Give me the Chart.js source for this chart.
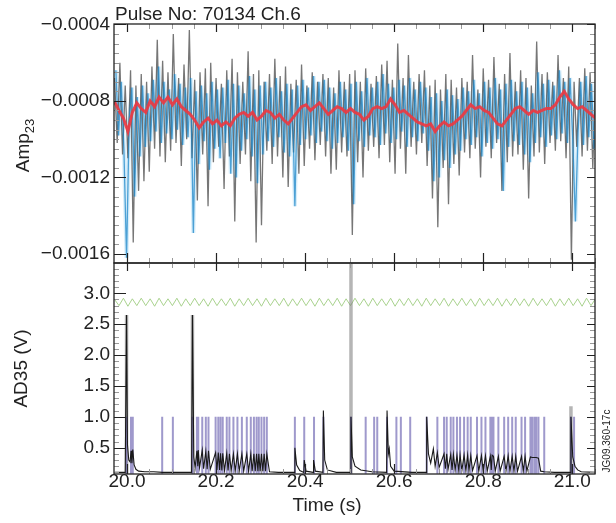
<!DOCTYPE html>
<html>
<head>
<meta charset="utf-8">
<script src="https://cdn.jsdelivr.net/npm/chart.js@4"></script>
<style>
  body { margin: 0; background: #fff; }
  canvas { display: block; }
</style>
</head>
<body>
<canvas id="grafico" width="616" height="523"></canvas>
<script>
// ---- datos ----
// Amp23 en unidades de 1e-4, muestreado cada 0.006 s
var grisStart = 19.972;
var azulStart = 19.975;
var ampStep = 0.006;
var ampGris = [
  -6.8, -10.2, -6.0, -10.8, -7.2, -11.0, -6.4, -15.4, -7.2, -12.7,
  -6.6, -12.2, -7.0, -11.7, -6.2, -10.5, -4.8, -10.9, -5.9, -11.2,
  -6.5, -10.6, -4.5, -10.2, -6.8, -11.4, -6.1, -10.0, -4.3, -11.0,
  -6.9, -13.2, -6.5, -10.8, -6.3, -13.5, -6.0, -11.2, -6.8, -10.4,
  -7.1, -12.6, -6.4, -10.9, -5.8, -14.3, -6.5, -11.3, -7.0, -10.8,
  -5.4, -12.2, -6.6, -15.4, -6.4, -14.5, -7.0, -10.6, -6.6, -11.3,
  -5.8, -10.9, -6.7, -12.0, -6.2, -12.5, -7.1, -10.7, -6.9, -11.8,
  -6.1, -11.4, -7.2, -10.5, -6.5, -11.1, -7.0, -10.3, -6.6, -10.9,
  -6.8, -11.8, -7.3, -11.6, -6.4, -10.7, -7.0, -10.9, -6.6, -15.0,
  -6.4, -11.2, -7.0, -12.0, -6.3, -10.6, -7.1, -10.4, -6.7, -11.0,
  -6.1, -10.3, -5.9, -11.2, -6.9, -11.8, -5.0, -10.5, -6.8, -11.8,
  -5.6, -10.4, -7.0, -10.8, -6.6, -10.2, -6.4, -11.4, -7.2, -13.1,
  -6.9, -14.6, -7.4, -11.5, -6.6, -13.4, -6.9, -11.3, -7.3, -11.9,
  -6.8, -10.7, -7.0, -11.0, -5.6, -10.5, -7.4, -12.0, -6.3, -10.4,
  -6.9, -11.0, -5.7, -10.2, -7.1, -12.7, -6.6, -11.2, -5.5, -10.9,
  -7.0, -10.8, -6.4, -11.6, -6.8, -13.1, -7.2, -10.9, -4.9, -10.7,
  -6.6, -11.3, -6.5, -10.2, -7.0, -10.6, -5.6, -10.1, -6.8, -11.0,
  -6.2, -16.3, -7.0, -10.4, -6.8, -10.9, -6.3, -10.6, -6.5, -11.5, -6.9
];
var ampAzul = [
  -6.4, -9.8, -7.0, -10.5, -16.2, -9.0, -7.3, -13.0, -7.8, -10.9,
  -7.2, -10.4, -7.6, -10.1, -6.9, -9.6, -6.2, -10.2, -7.0, -9.7,
  -7.4, -10.0, -6.6, -9.5, -7.1, -10.3, -7.3, -9.9, -6.8, -14.9,
  -7.5, -11.3, -7.2, -10.1, -7.6, -11.6, -7.0, -10.5, -7.4, -11.0,
  -7.3, -10.2, -6.9, -11.8, -7.1, -12.0, -7.2, -10.6, -7.6, -10.0,
  -6.7, -10.9, -7.4, -12.3, -7.2, -10.8, -7.0, -10.1, -7.3, -10.4,
  -6.8, -9.9, -7.5, -10.7, -7.1, -10.9, -7.4, -13.5, -7.2, -10.3,
  -6.9, -10.0, -7.3, -9.8, -6.7, -10.2, -7.0, -9.6, -6.9, -10.1,
  -7.3, -10.5, -7.6, -10.2, -7.0, -9.9, -7.4, -10.6, -7.1, -13.4,
  -7.0, -10.1, -7.5, -10.4, -6.8, -9.8, -7.3, -9.9, -7.0, -10.3,
  -6.6, -9.7, -7.1, -10.2, -7.3, -10.0, -6.9, -9.6, -7.2, -10.4,
  -6.8, -9.9, -7.4, -10.1, -7.0, -9.7, -7.3, -10.6, -7.8, -12.2,
  -7.6, -12.0, -8.0, -11.1, -7.4, -11.5, -7.7, -10.8, -7.9, -10.6,
  -7.3, -10.0, -7.5, -10.3, -6.9, -9.9, -7.6, -10.9, -7.0, -10.2,
  -7.3, -10.5, -6.8, -10.0, -7.4, -12.7, -7.1, -10.4, -6.9, -10.1,
  -7.5, -10.3, -7.0, -10.8, -7.3, -11.2, -7.6, -10.2, -6.5, -9.9,
  -7.1, -10.4, -6.9, -9.8, -7.2, -10.0, -6.4, -9.7, -7.0, -10.2,
  -6.8, -10.0, -14.3, -9.6, -7.0, -10.3, -6.7, -9.9, -7.1, -10.5, -8.8
];
// curva suavizada (roja), cada 0.01 s
var rojoStart = 19.972;
var rojoStep = 0.01;
var ampRojo = [
  -8.05, -8.5, -8.9, -9.6, -8.6, -8.1, -8.4, -8.6, -8.0, -8.3,
  -7.8, -8.1, -7.8, -8.2, -7.9, -8.3, -8.5, -8.7, -9.0, -9.4,
  -9.1, -8.9, -9.2, -9.0, -9.3, -9.1, -9.3, -8.9, -8.7, -8.6,
  -8.8, -8.6, -9.0, -8.8, -8.5, -8.6, -8.9, -8.7, -9.0, -9.2,
  -8.9, -8.6, -8.3, -8.2, -8.5, -8.3, -8.1, -8.4, -8.7, -8.5,
  -8.3, -8.4, -8.6, -8.4, -8.6, -8.7, -9.0, -8.8, -8.4, -8.3,
  -8.4, -8.3, -7.9, -8.2, -8.6, -8.5, -8.7, -8.9, -9.1, -9.2,
  -9.3, -9.2, -9.6, -9.3, -9.1, -9.3, -9.2, -9.0, -8.8, -8.5,
  -8.2, -8.4, -8.3, -8.5, -8.6, -8.9, -9.2, -9.3, -9.0, -8.7,
  -8.4, -8.3, -8.5, -8.7, -8.5, -8.6, -8.5, -8.4, -8.4, -8.2,
  -7.8, -7.5, -7.9, -8.2, -8.4, -8.3, -8.5, -8.7, -8.9
];

// AD35 (V): traza negra
var adTiempo = [
  19.972, 19.996, 19.999, 20.001, 20.004, 20.007, 20.009, 20.011, 20.013, 20.016,
  20.020, 20.026, 20.040, 20.060, 20.080, 20.120, 20.145, 20.147, 20.150, 20.153,
  20.157, 20.159, 20.160, 20.163, 20.169, 20.172, 20.177, 20.180, 20.183, 20.187,
  20.199, 20.202, 20.205, 20.208, 20.210, 20.213, 20.215, 20.219, 20.224, 20.227,
  20.230, 20.234, 20.239, 20.243, 20.248, 20.252, 20.258, 20.262, 20.269, 20.273,
  20.278, 20.281, 20.285, 20.288, 20.291, 20.294, 20.296, 20.299, 20.302, 20.305,
  20.308, 20.311, 20.314, 20.320, 20.340, 20.376, 20.377, 20.381, 20.388, 20.397,
  20.398, 20.402, 20.418, 20.419, 20.423, 20.440, 20.441, 20.444, 20.450, 20.470,
  20.502, 20.503, 20.506, 20.512, 20.525, 20.550, 20.583, 20.584, 20.587, 20.589,
  20.592, 20.600, 20.640, 20.672, 20.673, 20.677, 20.682, 20.688, 20.692, 20.697,
  20.701, 20.712, 20.715, 20.718, 20.721, 20.727, 20.730, 20.733, 20.737, 20.741,
  20.745, 20.748, 20.752, 20.757, 20.761, 20.765, 20.768, 20.772, 20.776, 20.786,
  20.790, 20.796, 20.800, 20.805, 20.809, 20.816, 20.818, 20.820, 20.823, 20.827,
  20.834, 20.838, 20.847, 20.851, 20.856, 20.860, 20.865, 20.869, 20.873, 20.877,
  20.886, 20.890, 20.894, 20.898, 20.906, 20.910, 20.915, 20.919, 20.924, 20.929,
  20.937, 20.960, 20.996, 20.997, 21.001, 21.006, 21.012, 21.020, 21.051
];
var adValor = [
  0.10, 0.10, 2.65, 0.55, 0.30, 0.27, 0.45, 0.25, 0.47, 0.22,
  0.15, 0.12, 0.11, 0.11, 0.10, 0.10, 0.10, 2.65, 0.35, 0.18,
  0.45, 0.20, 0.46, 0.18, 0.46, 0.16, 0.44, 0.15, 0.45, 0.15,
  0.42, 0.14, 0.42, 0.14, 0.41, 0.13, 0.41, 0.13, 0.41, 0.13,
  0.40, 0.13, 0.40, 0.12, 0.40, 0.12, 0.40, 0.12, 0.40, 0.12,
  0.40, 0.12, 0.40, 0.12, 0.40, 0.12, 0.40, 0.12, 0.40, 0.12,
  0.40, 0.12, 0.40, 0.11, 0.10, 0.10, 0.50, 0.22, 0.13, 0.10,
  0.30, 0.12, 0.10, 0.30, 0.12, 0.10, 1.10, 0.30, 0.14, 0.10,
  0.10, 1.00, 0.35, 0.20, 0.14, 0.11, 0.10, 1.10, 0.40, 0.48,
  0.20, 0.12, 0.10, 0.10, 1.00, 0.40, 0.25, 0.48, 0.20, 0.42,
  0.18, 0.40, 0.16, 0.40, 0.15, 0.39, 0.14, 0.39, 0.14, 0.38,
  0.13, 0.38, 0.13, 0.38, 0.13, 0.38, 0.13, 0.37, 0.13, 0.37,
  0.12, 0.37, 0.12, 0.37, 0.12, 0.36, 0.14, 0.38, 0.36, 0.12,
  0.36, 0.12, 0.36, 0.12, 0.37, 0.12, 0.36, 0.12, 0.36, 0.12,
  0.36, 0.12, 0.36, 0.12, 0.35, 0.34, 0.34, 0.34, 0.33, 0.12,
  0.11, 0.10, 0.10, 1.00, 0.35, 0.20, 0.14, 0.11, 0.10
];
// marcas moradas (nivel 1.0 V)
var moradoTiempo = [
  19.999, 20.009, 20.013, 20.079, 20.103, 20.147, 20.157, 20.160, 20.169, 20.177,
  20.183, 20.199, 20.205, 20.210, 20.215, 20.224, 20.230, 20.239, 20.248, 20.258,
  20.269, 20.278, 20.285, 20.291, 20.296, 20.302, 20.308, 20.314, 20.377, 20.398,
  20.420, 20.441, 20.503, 20.536, 20.555, 20.562, 20.584, 20.605, 20.615, 20.636,
  20.673, 20.697, 20.712, 20.718, 20.727, 20.733, 20.741, 20.748, 20.757, 20.765,
  20.772, 20.786, 20.796, 20.805, 20.816, 20.820, 20.823, 20.834, 20.847, 20.856,
  20.865, 20.873, 20.886, 20.894, 20.906, 20.910, 20.915, 20.919, 20.924, 20.937,
  20.997, 21.004
];
var moradoBase = 0.08;
var moradoNivel = 1.0;
// bandas grises anchas
var grisTiempo = [19.999, 20.147, 20.503, 20.997];
var grisAlto = [2.65, 2.65, 3.49, 1.17];
// oscilacion verde, cada 0.01 s
var verdeStart = 19.972;
var verdeStep = 0.01;
var verde = [
  2.90, 2.80, 2.92, 2.79, 2.91, 2.80, 2.92, 2.80, 2.91, 2.79,
  2.92, 2.80, 2.91, 2.80, 2.92, 2.79, 2.91, 2.80, 2.92, 2.80,
  2.91, 2.79, 2.92, 2.80, 2.91, 2.80, 2.92, 2.79, 2.91, 2.80,
  2.92, 2.80, 2.91, 2.79, 2.92, 2.80, 2.91, 2.80, 2.92, 2.79,
  2.91, 2.80, 2.92, 2.80, 2.91, 2.79, 2.92, 2.80, 2.91, 2.80,
  2.92, 2.79, 2.91, 2.80, 2.92, 2.80, 2.91, 2.79, 2.92, 2.80,
  2.91, 2.80, 2.92, 2.79, 2.91, 2.80, 2.92, 2.80, 2.91, 2.79,
  2.92, 2.80, 2.91, 2.80, 2.92, 2.79, 2.91, 2.80, 2.92, 2.80,
  2.91, 2.79, 2.92, 2.80, 2.91, 2.80, 2.92, 2.79, 2.91, 2.80,
  2.92, 2.80, 2.91, 2.79, 2.92, 2.80, 2.91, 2.80, 2.92, 2.79,
  2.91, 2.80, 2.92, 2.80, 2.91, 2.79, 2.92, 2.80, 2.91
];

// ejes
var xTicks = [20.0, 20.2, 20.4, 20.6, 20.8, 21.0];
var xTickLabels = ['20.0', '20.2', '20.4', '20.6', '20.8', '21.0'];
var ampTicks = [-4, -8, -12, -16];
var ampTickLabels = ['\u22120.0004', '\u22120.0008', '\u22120.0012', '\u22120.0016'];
var adTicks = [0.5, 1.0, 1.5, 2.0, 2.5, 3.0];
var adTickLabels = ['0.5', '1.0', '1.5', '2.0', '2.5', '3.0'];

var titulo = 'Pulse No: 70134 Ch.6';
var etiquetaX = 'Time (s)';
var etiquetaAmp = 'Amp';
var etiquetaAmpSub = '23';
var etiquetaAd = 'AD35 (V)';
var codigo = 'JG09.360-17c';

var fuente = '"Liberation Sans", Arial, Helvetica, sans-serif';

// ---- armar datasets ----
function serie(valores, inicio, paso) {
  return valores.map(function (v, i) { return { x: inicio + i * paso, y: v }; });
}
function parejas(tiempos, valores) {
  return tiempos.map(function (t, i) { return { x: t, y: valores[i] }; });
}
function barras(tiempos, base, altos) {
  var puntos = [];
  tiempos.forEach(function (t, i) {
    var alto = Array.isArray(altos) ? altos[i] : altos;
    puntos.push({ x: t, y: base }, { x: t, y: alto }, { x: t, y: null });
  });
  return puntos;
}

function linea(datos, eje, color, ancho) {
  return {
    data: datos, yAxisID: eje, xAxisID: 'x',
    borderColor: color, borderWidth: ancho,
    pointRadius: 0, tension: 0, fill: false, spanGaps: false
  };
}

// Chart.js pinta el primer dataset encima, asi que va de arriba hacia abajo
var datasets = [
  linea(serie(ampRojo, rojoStart, rojoStep), 'yAmp', 'rgba(236,58,66,0.92)', 3),
  linea(serie(ampAzul, azulStart, ampStep), 'yAmp', 'rgba(30,135,200,0.75)', 1.3),
  linea(serie(ampGris, grisStart, ampStep), 'yAmp', 'rgba(60,60,60,0.7)', 1.3),
  linea(serie(ampAzul, azulStart, ampStep), 'yAmp', 'rgba(120,195,240,0.3)', 4),
  linea(parejas(adTiempo, adValor), 'yAd', '#1a1a1a', 1.1),
  linea(barras(moradoTiempo, moradoBase, moradoNivel), 'yAd', 'rgba(95,85,170,0.6)', 2),
  linea(barras(grisTiempo, moradoBase, grisAlto), 'yAd', 'rgba(120,120,120,0.55)', 3.5),
  linea(serie(verde, verdeStart, verdeStep), 'yAd', 'rgba(160,205,130,0.9)', 1)
];

// ---- marco, marcas internas y textos ----
var marcoPlugin = {
  id: 'marco',
  afterDraw: function (chart) {
    var c = chart.ctx;
    var a = chart.chartArea;
    var xs = chart.scales.x;
    var paneles = [
      { s: chart.scales.yAmp, mayores: ampTicks, menor: 0.5 },
      { s: chart.scales.yAd, mayores: adTicks, menor: 0.1 }
    ];
    c.save();
    paneles.forEach(function (p) {
      var s = p.s;
      // marcas menores
      c.strokeStyle = '#999';
      c.lineWidth = 1;
      c.beginPath();
      for (var v = Math.ceil(s.min / p.menor) * p.menor; v <= s.max; v += p.menor) {
        var y = Math.round(s.getPixelForValue(v)) + 0.5;
        c.moveTo(a.left, y); c.lineTo(a.left + 5, y);
        c.moveTo(a.right, y); c.lineTo(a.right - 5, y);
      }
      for (var t = Math.ceil(xs.min / 0.05) * 0.05; t <= xs.max; t += 0.05) {
        var x = Math.round(xs.getPixelForValue(t)) + 0.5;
        c.moveTo(x, s.top); c.lineTo(x, s.top + 5);
        c.moveTo(x, s.bottom); c.lineTo(x, s.bottom - 5);
      }
      c.stroke();
      // marcas mayores
      c.strokeStyle = '#222';
      c.lineWidth = 1.2;
      c.beginPath();
      p.mayores.forEach(function (v) {
        var y = Math.round(s.getPixelForValue(v)) + 0.5;
        c.moveTo(a.left, y); c.lineTo(a.left + 12, y);
        c.moveTo(a.right, y); c.lineTo(a.right - 8, y);
      });
      xTicks.forEach(function (t) {
        var x = Math.round(xs.getPixelForValue(t)) + 0.5;
        c.moveTo(x, s.top); c.lineTo(x, s.top + 8);
        c.moveTo(x, s.bottom); c.lineTo(x, s.bottom - 10);
      });
      c.stroke();
      // marco
      c.lineWidth = 1.3;
      c.strokeStyle = '#222';
      c.strokeRect(a.left, s.top, a.right - a.left, s.bottom - s.top);
    });

    c.fillStyle = '#222';
    // titulo
    c.font = '19px ' + fuente;
    c.textAlign = 'left';
    c.textBaseline = 'alphabetic';
    c.fillText(titulo, a.left + 1, 20);
    // eje x
    c.textAlign = 'center';
    c.textBaseline = 'middle';
    c.fillText(etiquetaX, 327, 506);
    // AD35 (V)
    var yAd = chart.scales.yAd;
    c.save();
    c.translate(22, (yAd.top + yAd.bottom) / 2);
    c.rotate(-Math.PI / 2);
    c.fillText(etiquetaAd, 0, 0);
    c.restore();
    // Amp con subindice
    var yAmp = chart.scales.yAmp;
    c.save();
    c.translate(24, (yAmp.top + yAmp.bottom) / 2 + 2);
    c.rotate(-Math.PI / 2);
    c.font = '19px ' + fuente;
    var w1 = c.measureText(etiquetaAmp).width;
    c.font = '13px ' + fuente;
    var w2 = c.measureText(etiquetaAmpSub).width;
    var x0 = -(w1 + w2) / 2;
    c.textAlign = 'left';
    c.font = '19px ' + fuente;
    c.fillText(etiquetaAmp, x0, 0);
    c.font = '13px ' + fuente;
    c.fillText(etiquetaAmpSub, x0 + w1, 6);
    c.restore();
    // codigo de figura
    c.save();
    c.translate(607, 441);
    c.rotate(-Math.PI / 2);
    c.font = '10px ' + fuente;
    c.textAlign = 'center';
    c.fillText(codigo, 0, 0);
    c.restore();
    c.restore();
  }
};

function ejeY(ticks, etiquetas, min, max, peso, stackPeso) {
  return {
    type: 'linear', position: 'left', stack: 'paneles',
    stackWeight: stackPeso, weight: peso,
    min: min, max: max,
    afterFit: function (s) { s.width = 114; },
    afterBuildTicks: function (s) { s.ticks = ticks.map(function (v) { return { value: v }; }); },
    grid: { display: false, drawTicks: false },
    border: { display: false },
    ticks: {
      padding: 4, autoSkip: false, color: '#222', font: { family: fuente, size: 19 },
      callback: function (v) { return etiquetas[ticks.indexOf(v)]; }
    }
  };
}

var ctx = document.getElementById('grafico').getContext('2d');
var chart = new Chart(ctx, {
  type: 'line',
  data: { datasets: datasets },
  plugins: [marcoPlugin],
  options: {
    responsive: false,
    animation: false,
    events: [],
    layout: { padding: { top: 24, right: 21, bottom: 0, left: 0 } },
    plugins: { legend: { display: false }, tooltip: { enabled: false } },
    scales: {
      x: {
        type: 'linear', min: 19.9708, max: 21.051,
        afterFit: function (s) { s.height = 49; },
        afterBuildTicks: function (s) { s.ticks = xTicks.map(function (v) { return { value: v }; }); },
        grid: { display: false, drawTicks: false },
        border: { display: false },
        ticks: {
          padding: -4, autoSkip: false, maxRotation: 0, color: '#222', font: { family: fuente, size: 19 },
          callback: function (v) { return xTickLabels[xTicks.indexOf(v)]; }
        }
      },
      yAmp: ejeY(ampTicks, ampTickLabels, -16.47, -3.98, 2, 239),
      yAd: ejeY(adTicks, adTickLabels, 0.074, 3.49, 1, 211)
    }
  }
});
</script>
</body>
</html>
